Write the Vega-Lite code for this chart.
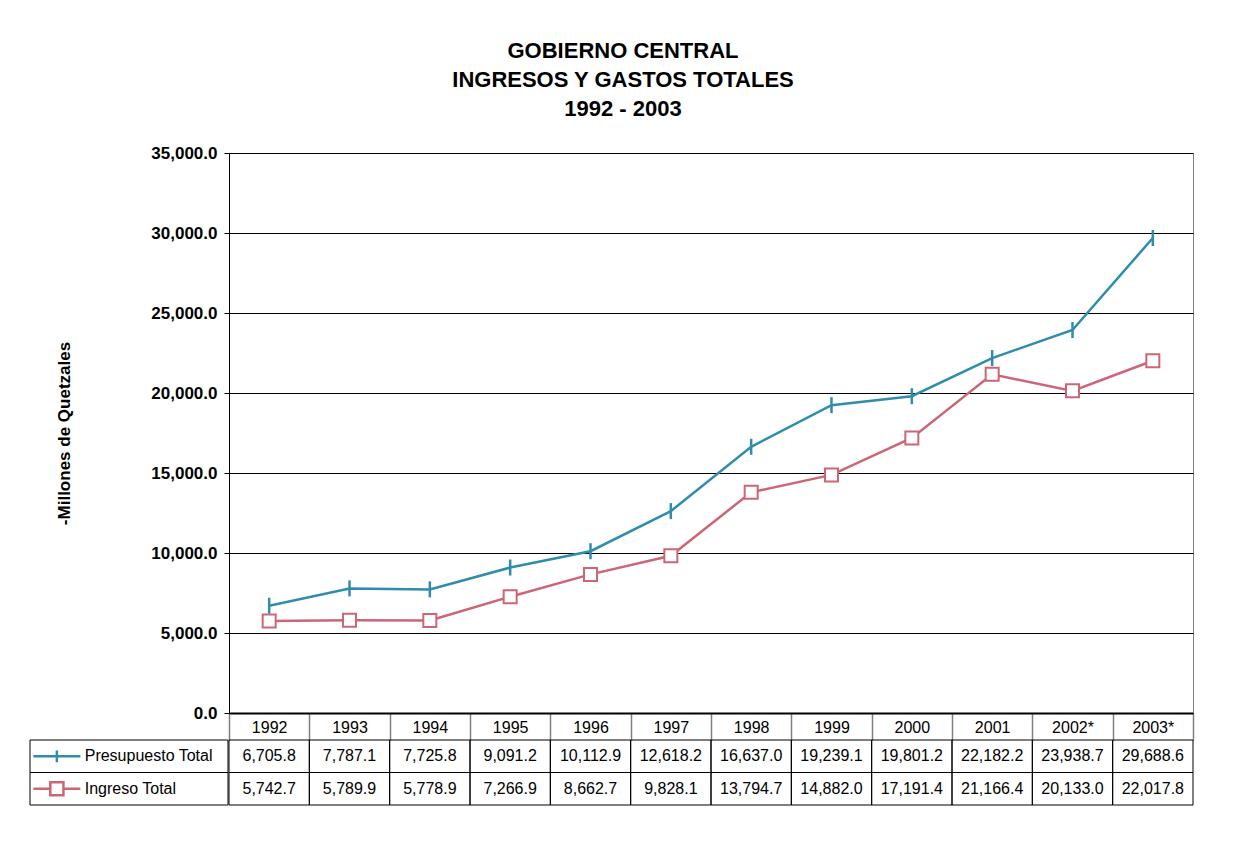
{
  "$schema": "https://vega.github.io/schema/vega-lite/v6.json",
  "width": 964,
  "height": 560,
  "autosize": {"type": "none"},
  "padding": {"left": 229, "top": 153, "right": 41, "bottom": 154},
  "background": "white",
  "config": {
    "font": "Liberation Sans",
    "view": {"stroke": "#808080", "strokeWidth": 1}
  },
  "title": {
    "text": ["GOBIERNO CENTRAL", "INGRESOS Y GASTOS TOTALES", "1992 - 2003"],
    "fontSize": 22,
    "fontWeight": "bold",
    "lineHeight": 29,
    "anchor": "middle",
    "frame": "group",
    "dx": -88,
    "offset": 23,
    "color": "black",
    "font": "Liberation Sans"
  },
  "datasets": {
    "d": [
      {"year": "1992", "series": "Presupuesto Total", "value": 6705.8},
      {"year": "1993", "series": "Presupuesto Total", "value": 7787.1},
      {"year": "1994", "series": "Presupuesto Total", "value": 7725.8},
      {"year": "1995", "series": "Presupuesto Total", "value": 9091.2},
      {"year": "1996", "series": "Presupuesto Total", "value": 10112.9},
      {"year": "1997", "series": "Presupuesto Total", "value": 12618.2},
      {"year": "1998", "series": "Presupuesto Total", "value": 16637.0},
      {"year": "1999", "series": "Presupuesto Total", "value": 19239.1},
      {"year": "2000", "series": "Presupuesto Total", "value": 19801.2},
      {"year": "2001", "series": "Presupuesto Total", "value": 22182.2},
      {"year": "2002*", "series": "Presupuesto Total", "value": 23938.7},
      {"year": "2003*", "series": "Presupuesto Total", "value": 29688.6},
      {"year": "1992", "series": "Ingreso Total", "value": 5742.7},
      {"year": "1993", "series": "Ingreso Total", "value": 5789.9},
      {"year": "1994", "series": "Ingreso Total", "value": 5778.9},
      {"year": "1995", "series": "Ingreso Total", "value": 7266.9},
      {"year": "1996", "series": "Ingreso Total", "value": 8662.7},
      {"year": "1997", "series": "Ingreso Total", "value": 9828.1},
      {"year": "1998", "series": "Ingreso Total", "value": 13794.7},
      {"year": "1999", "series": "Ingreso Total", "value": 14882.0},
      {"year": "2000", "series": "Ingreso Total", "value": 17191.4},
      {"year": "2001", "series": "Ingreso Total", "value": 21166.4},
      {"year": "2002*", "series": "Ingreso Total", "value": 20133.0},
      {"year": "2003*", "series": "Ingreso Total", "value": 22017.8}
    ]
  },
  "layer": [
    {
      "data": {"name": "d"},
      "encoding": {
        "x": {
          "field": "year", "type": "nominal", "sort": null,
          "scale": {"type": "band", "paddingInner": 0, "paddingOuter": 0},
          "axis": {
            "title": null, "labelFontSize": 16, "labelColor": "black", "labelAngle": 0,
            "labelBaseline": "middle", "labelPadding": -13,
            "tickBand": "extent", "tickSize": 27, "tickColor": "#808080", "tickWidth": 1.5,
            "domainColor": "black", "domainWidth": 2, "grid": false
          }
        },
        "y": {
          "field": "value", "type": "quantitative",
          "scale": {"domain": [0, 35000], "nice": false},
          "axis": {
            "title": "-Millones de Quetzales", "titleFontSize": 17, "titleFontWeight": "bold",
            "titleColor": "black", "titlePadding": 77,
            "format": ",.1f", "values": [0, 5000, 10000, 15000, 20000, 25000, 30000, 35000],
            "labelFontSize": 17, "labelFontWeight": "bold", "labelColor": "black", "labelPadding": 7,
            "tickSize": 5, "tickColor": "black", "domainColor": "black",
            "grid": true, "gridColor": "black", "gridWidth": 1
          }
        },
        "stroke": {
          "field": "series", "type": "nominal",
          "scale": {"domain": ["Presupuesto Total", "Ingreso Total"], "range": ["#2F8CAB", "#CC6677"]},
          "legend": null
        }
      },
      "layer": [
        {"mark": {"type": "line", "strokeWidth": 2.5}},
        {
          "transform": [{"filter": "datum.series === 'Presupuesto Total'"}],
          "mark": {"type": "point", "shape": "M0,-1V1", "size": 256, "strokeWidth": 2.5, "filled": false, "opacity": 1}
        },
        {
          "transform": [{"filter": "datum.series === 'Ingreso Total'"}],
          "mark": {"type": "point", "shape": "square", "size": 169, "strokeWidth": 2, "filled": false, "fill": "white", "opacity": 1}
        }
      ]
    },
    {
      "data": {"name": "d"},
      "encoding": {
        "x": {
          "field": "year", "type": "nominal", "sort": null,
          "scale": {"type": "band", "paddingInner": 0, "paddingOuter": 0},
          "axis": null
        },
        "y": {
          "field": "series", "type": "nominal", "sort": null,
          "scale": {"type": "band", "domain": ["Presupuesto Total", "Ingreso Total"], "range": [587, 652], "paddingInner": 0, "paddingOuter": 0},
          "axis": null
        }
      },
      "layer": [
        {"mark": {"type": "rect", "filled": false, "stroke": "black", "strokeWidth": 1}},
        {
          "mark": {"type": "text", "fontSize": 16, "color": "black", "baseline": "middle"},
          "encoding": {"text": {"field": "value", "type": "quantitative", "format": ",.1f"}}
        }
      ]
    },
    {
      "data": {"name": "d"},
      "transform": [{"filter": "datum.year === '1992'"}],
      "encoding": {
        "y": {
          "field": "series", "type": "nominal", "sort": null,
          "scale": {"type": "band", "domain": ["Presupuesto Total", "Ingreso Total"], "range": [587, 652], "paddingInner": 0, "paddingOuter": 0},
          "axis": null
        }
      },
      "layer": [
        {
          "mark": {"type": "rect", "filled": false, "stroke": "black", "strokeWidth": 1},
          "encoding": {
            "x": {"datum": 0, "type": "quantitative", "scale": {"domain": [0, 199], "range": [-199, 0]}, "axis": null},
            "x2": {"datum": 199}
          }
        },
        {
          "mark": {"type": "point", "size": 2209, "strokeWidth": 2.5, "filled": false, "opacity": 1},
          "encoding": {
            "x": {"datum": 27, "type": "quantitative"},
            "shape": {
              "field": "series", "type": "nominal",
              "scale": {"domain": ["Presupuesto Total", "Ingreso Total"], "range": ["M-1,0H1M0,-0.25V0.25", "M-1,0H-0.28M0.28,0H1M-0.28,-0.28H0.28V0.28H-0.28Z"]},
              "legend": null
            },
            "stroke": {
              "field": "series", "type": "nominal",
              "scale": {"domain": ["Presupuesto Total", "Ingreso Total"], "range": ["#2F8CAB", "#CC6677"]},
              "legend": null
            }
          }
        },
        {
          "mark": {"type": "text", "align": "left", "baseline": "middle", "fontSize": 16, "color": "black"},
          "encoding": {
            "x": {"datum": 55, "type": "quantitative"},
            "text": {"field": "series"}
          }
        }
      ]
    }
  ],
  "resolve": {"scale": {"x": "independent", "y": "independent", "stroke": "independent", "shape": "independent"}}
}
